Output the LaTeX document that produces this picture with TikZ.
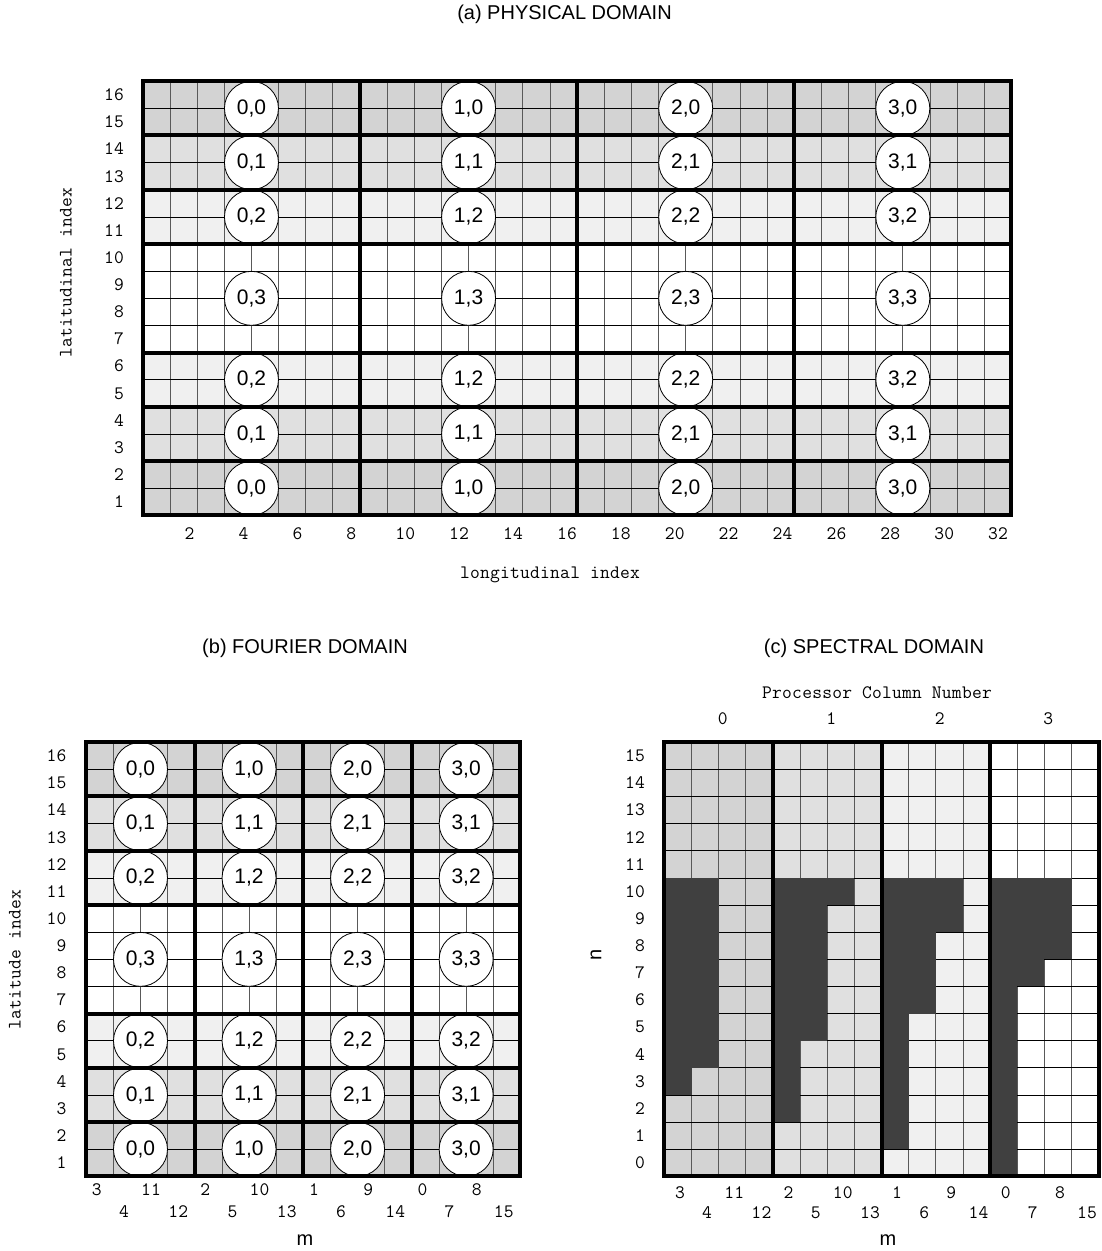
\documentclass[tikz,border=0pt]{standalone}
\usepackage{fontspec}
\setmainfont{Liberation Sans}
\newfontfamily\monof[LetterSpace=1.2]{Latin Modern Mono}
\definecolor{ga}{gray}{0.827}
\definecolor{gb}{gray}{0.878}
\definecolor{gc}{gray}{0.941}
\definecolor{gd}{gray}{0.251}
\begin{document}
\begin{tikzpicture}[x=1pt,y=-1pt,
  vl/.style={line width=0.8pt,draw=black!65},
  hl/.style={line width=0.8pt,draw=black},
  thk/.style={line width=4pt,draw=black},
  proc/.style={circle,draw=black,fill=white,line width=0.8pt,minimum size=54pt,inner sep=0pt,font=\fontsize{21}{24}\selectfont},
  lab/.style={font=\monof\fontsize{19}{22}\selectfont,inner sep=0pt},
  ttl/.style={font=\fontsize{20}{24}\selectfont,inner sep=0pt}]
\useasboundingbox (0,0) rectangle (1102,1251);
\def\cw{27.14}
% ================= (a) PHYSICAL DOMAIN =================
\def\ax{142.9}\def\ay{81.2}
\foreach \j/\c in {0/ga,2/gb,4/gc,10/gc,12/gb,14/ga}
  \fill[\c] (\ax,{\ay+\j*\cw}) rectangle ({\ax+32*\cw},{\ay+(\j+2)*\cw});
\foreach \i in {1,...,31}
  \draw[vl] ({\ax+\i*\cw},\ay) -- ({\ax+\i*\cw},{\ay+16*\cw});
\foreach \j in {1,...,15}
  \draw[hl] (\ax,{\ay+\j*\cw}) -- ({\ax+32*\cw},{\ay+\j*\cw});
\foreach \b in {0,...,3}
  \foreach \jc/\k in {1/0,3/1,5/2,8/3,11/2,13/1,15/0}
    \node[proc] (a-\b-\jc) at ({\ax+(8*\b+4)*\cw},{\ay+\jc*\cw}) {\b,\k};
\draw[thk] (\ax,\ay) rectangle ({\ax+32*\cw},{\ay+16*\cw});
\foreach \i in {8,16,24}
  \draw[thk] ({\ax+\i*\cw},\ay) -- ({\ax+\i*\cw},{\ay+16*\cw});
\foreach \j in {2,4,6,10,12,14}
  \draw[thk] (\ax,{\ay+\j*\cw}) -- ({\ax+32*\cw},{\ay+\j*\cw});
\foreach \k [evaluate=\k as \v using int(2*\k)] in {1,...,16}
  \node[lab] (ax-\k) at ({189.6+(\k-1)*53.9},534) {\v};
\foreach \r in {1,...,16}
  \node[lab,anchor=east] (ay-\r) at (124,{\ay+(16.5-\r)*\cw}) {\r};
\node[ttl] (ta) at (564.5,14) {(a) PHYSICAL DOMAIN};
\node[lab] (xla) at (550,575) {longitudinal index};
\node[lab,rotate=90] (yla) at (66,273) {latitudinal index};
% ================= (b) FOURIER DOMAIN =================
\def\bx{86.2}\def\by{742.2}
\foreach \j/\c in {0/ga,2/gb,4/gc,10/gc,12/gb,14/ga}
  \fill[\c] (\bx,{\by+\j*\cw}) rectangle ({\bx+16*\cw},{\by+(\j+2)*\cw});
\foreach \i in {1,...,15}
  \draw[vl] ({\bx+\i*\cw},\by) -- ({\bx+\i*\cw},{\by+16*\cw});
\foreach \j in {1,...,15}
  \draw[hl] (\bx,{\by+\j*\cw}) -- ({\bx+16*\cw},{\by+\j*\cw});
\foreach \b in {0,...,3}
  \foreach \jc/\k in {1/0,3/1,5/2,8/3,11/2,13/1,15/0}
    \node[proc] (b-\b-\jc) at ({\bx+(4*\b+2)*\cw},{\by+\jc*\cw}) {\b,\k};
\draw[thk] (\bx,\by) rectangle ({\bx+16*\cw},{\by+16*\cw});
\foreach \i in {4,8,12}
  \draw[thk] ({\bx+\i*\cw},\by) -- ({\bx+\i*\cw},{\by+16*\cw});
\foreach \j in {2,4,6,10,12,14}
  \draw[thk] (\bx,{\by+\j*\cw}) -- ({\bx+16*\cw},{\by+\j*\cw});
\foreach \b [evaluate=\b as \va using int(3-\b),
             evaluate=\b as \vb using int(11-\b),
             evaluate=\b as \vc using int(4+\b),
             evaluate=\b as \vd using int(12+\b)] in {0,...,3} {
  \node[lab] (bxa-\b) at ({\bx+(4*\b+0.5)*\cw-3},1190) {\va};
  \node[lab] (bxb-\b) at ({\bx+(4*\b+2.5)*\cw-3},1190) {\vb};
  \node[lab] (bxc-\b) at ({\bx+(4*\b+1.5)*\cw-3},1212) {\vc};
  \node[lab] (bxd-\b) at ({\bx+(4*\b+3.5)*\cw-3},1212) {\vd};
}
\foreach \r in {1,...,16}
  \node[lab,anchor=east] (by-\r) at (66.5,{\by+(16.5-\r)*\cw}) {\r};
\node[ttl] (tb) at (305,648) {(b) FOURIER DOMAIN};
\node[ttl] (mb) at (305,1240) {m};
\node[lab,rotate=90] (ylb) at (15,960) {latitude index};
% ================= (c) SPECTRAL DOMAIN =================
\def\cx{664.4}\def\cy{742.2}
\foreach \b/\c in {0/ga,1/gb,2/gc}
  \fill[\c] ({\cx+4*\b*\cw},\cy) rectangle ({\cx+(4*\b+4)*\cw},{\cy+16*\cw});
\foreach \i in {1,2,3,5,6,7,9,10,11,13,14,15}
  \draw[vl] ({\cx+\i*\cw},\cy) -- ({\cx+\i*\cw},{\cy+16*\cw});
\foreach \j in {1,...,15}
  \draw[hl] (\cx,{\cy+\j*\cw}) -- ({\cx+16*\cw},{\cy+\j*\cw});
\foreach \i/\m in {0/3,1/4,4/2,5/5,6/10,8/1,9/6,10/9,12/0,13/7,14/8}
  \fill[gd] ({\cx+\i*\cw},{\cy+5*\cw}) rectangle ({\cx+(\i+1)*\cw},{\cy+(16-\m)*\cw});
\draw[thk] (\cx,\cy) rectangle ({\cx+16*\cw},{\cy+16*\cw});
\foreach \i in {4,8,12}
  \draw[thk] ({\cx+\i*\cw},\cy) -- ({\cx+\i*\cw},{\cy+16*\cw});
\foreach \n in {0,...,15}
  \node[lab,anchor=east] (cy-\n) at (645,{\cy+(15.5-\n)*\cw}) {\n};
\foreach \b [evaluate=\b as \va using int(3-\b),
             evaluate=\b as \vb using int(11-\b),
             evaluate=\b as \vc using int(4+\b),
             evaluate=\b as \vd using int(12+\b)] in {0,...,3} {
  \node[lab] (cxa-\b) at ({\cx+(4*\b+0.5)*\cw+2},1193) {\va};
  \node[lab] (cxb-\b) at ({\cx+(4*\b+2.5)*\cw+2},1193) {\vb};
  \node[lab] (cxc-\b) at ({\cx+(4*\b+1.5)*\cw+2},1213) {\vc};
  \node[lab] (cxd-\b) at ({\cx+(4*\b+3.5)*\cw+2},1213) {\vd};
  \node[lab] (pc-\b) at ({\cx+(4*\b+2)*\cw+4},719) {\b};
}
\node[lab] (pcn) at (877,693) {Processor Column Number};
\node[ttl] (tc) at (874,648) {(c) SPECTRAL DOMAIN};
\node[ttl] (mc) at (888,1240) {m};
\node[ttl,rotate=90] (nc) at (596,955) {n};
\end{tikzpicture}
\end{document}
